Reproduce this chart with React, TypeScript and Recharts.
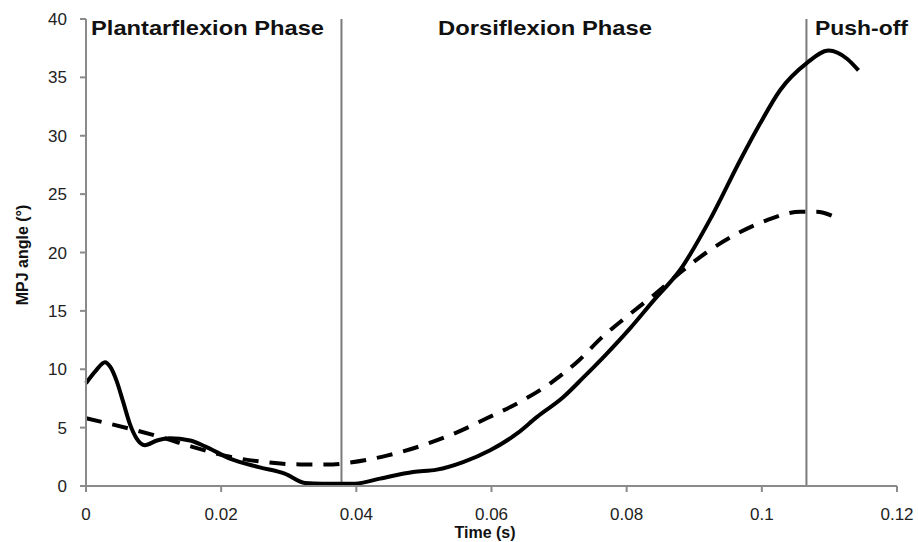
import { LineChart, Line, XAxis, YAxis, ReferenceLine } from 'recharts';

// solid curve (time in s, MPJ angle in degrees)
const solidTime = [
    0, 0.0015, 0.0028, 0.0036, 0.0045, 0.0055, 0.0065, 0.0075, 0.0087, 0.0105, 0.0124, 0.0154, 0.0176,
    0.0213, 0.0257, 0.0294, 0.0324, 0.035, 0.0398, 0.0435, 0.0484, 0.0519, 0.0558, 0.0598, 0.0638,
    0.0667, 0.0706, 0.0736, 0.077, 0.0805, 0.084, 0.0879, 0.0925, 0.0968, 0.0997, 0.1027, 0.1066,
    0.1099, 0.1126, 0.1143,
];
const solidAngle = [
    8.8, 9.9, 10.6, 10.2, 9.05, 7.2, 5.3, 4.06, 3.5, 3.9, 4.1, 3.9, 3.4,
    2.35, 1.6, 1.06, 0.26, 0.2, 0.2, 0.63, 1.2, 1.4, 2.05, 3.06, 4.5,
    5.9, 7.6, 9.3, 11.3, 13.5, 15.9, 18.5, 23.0, 27.9, 31.0, 33.9, 36.2,
    37.3, 36.6, 35.6,
];

// dashed curve
const dashedTime = [
    0, 0.0065, 0.011, 0.0155, 0.0213, 0.0257, 0.0317, 0.0365, 0.039, 0.0445, 0.0499, 0.0549, 0.0593,
    0.0642, 0.0687, 0.073, 0.0761, 0.08, 0.0839, 0.0884, 0.0918, 0.0963, 0.1007, 0.1057, 0.108, 0.1118,
];
const dashedAngle = [
    5.8, 4.9, 4.2, 3.4, 2.5, 2.1, 1.85, 1.85, 2.0, 2.6, 3.5, 4.6, 5.8,
    7.2, 8.8, 10.8, 12.6, 14.5, 16.3, 18.5, 20.0, 21.6, 22.75, 23.5, 23.5, 22.75,
];

const xTicks = [0, 0.02, 0.04, 0.06, 0.08, 0.1, 0.12];
const yTicks = [0, 5, 10, 15, 20, 25, 30, 35, 40];
const phaseBounds = [0.0378, 0.1066];

const solidData = solidTime.map((t, i) => ({ t, v: solidAngle[i] }));
const dashedData = dashedTime.map((t, i) => ({ t, v: dashedAngle[i] }));

const FONT = '"Liberation Sans", Arial, sans-serif';
const AXIS = '#8a8a8a';

export default function App() {
    return (
        <div style={{ position: 'absolute', left: 0, top: 0, width: 918, height: 542, background: '#fff', fontFamily: FONT }}>
            <LineChart width={918} height={542} margin={{ top: 19, right: 21, bottom: 26, left: 0 }}>
                <XAxis
                    dataKey="t"
                    type="number"
                    domain={[0, 0.12]}
                    ticks={xTicks}
                    height={30}
                    tickFormatter={(v) => String(v)}
                    stroke={AXIS}
                    strokeWidth={2}
                    tickSize={6}
                    tickMargin={16}
                    tick={{ fill: '#222', fontSize: 17, fontFamily: FONT }}
                />
                <YAxis
                    type="number"
                    domain={[0, 40]}
                    ticks={yTicks}
                    width={86}
                    stroke={AXIS}
                    strokeWidth={2}
                    tickSize={6}
                    tickMargin={13}
                    tick={{ fill: '#222', fontSize: 17, fontFamily: FONT }}
                />
                {phaseBounds.map((x) => (
                    <ReferenceLine key={x} x={x} stroke="#7a7a7a" strokeWidth={2} ifOverflow="visible" />
                ))}
                <Line
                    data={dashedData}
                    dataKey="v"
                    type="monotone"
                    stroke="#000"
                    strokeWidth={4}
                    strokeDasharray="16 11"
                    dot={false}
                    isAnimationActive={false}
                />
                <Line
                    data={solidData}
                    dataKey="v"
                    type="monotone"
                    stroke="#000"
                    strokeWidth={4}
                    dot={false}
                    isAnimationActive={false}
                />
            </LineChart>
            <svg width={918} height={542} style={{ position: 'absolute', left: 0, top: 0, pointerEvents: 'none' }}>
                <g fontFamily={FONT} fontWeight="bold" fill="#111">
                    <text x={91} y={35} fontSize={21} textLength={233} lengthAdjust="spacingAndGlyphs">Plantarflexion Phase</text>
                    <text x={438} y={35} fontSize={21} textLength={214} lengthAdjust="spacingAndGlyphs">Dorsiflexion Phase</text>
                    <text x={815} y={35} fontSize={21} textLength={93} lengthAdjust="spacingAndGlyphs">Push-off</text>
                    <text x={485} y={538} fontSize={16} textAnchor="middle">Time (s)</text>
                    <text x={28} y={255} fontSize={16} textAnchor="middle" transform="rotate(-90 28 255)">MPJ angle (°)</text>
                </g>
            </svg>
        </div>
    );
}
